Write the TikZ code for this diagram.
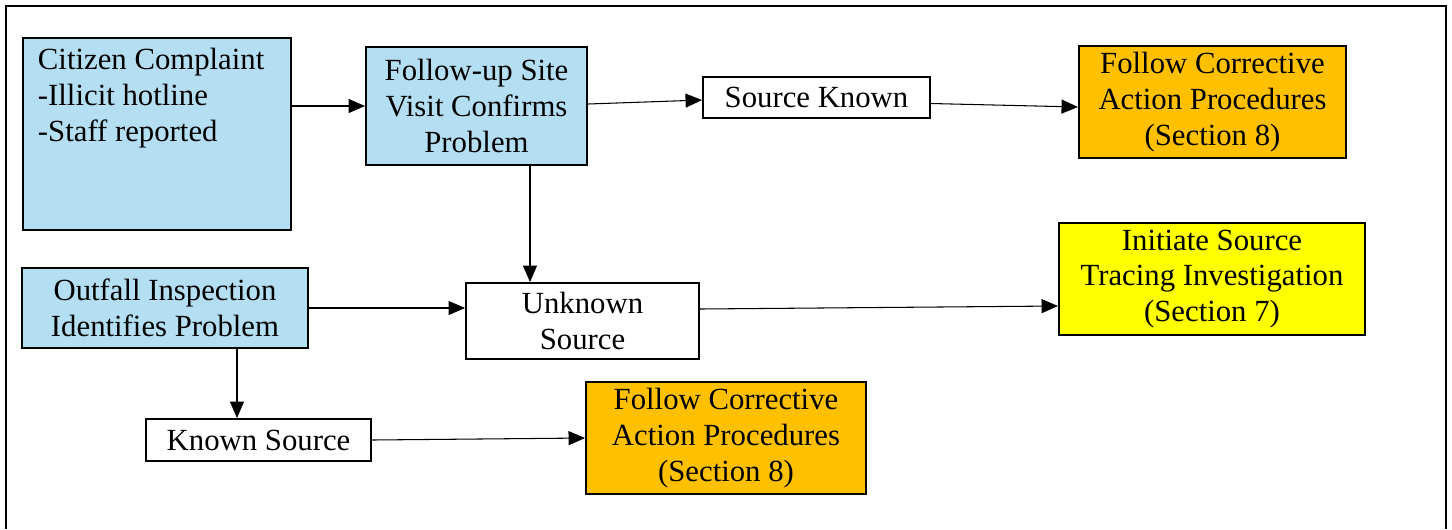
\documentclass[tikz,border=0pt]{standalone}
\usepackage{fontspec}
\setmainfont{Liberation Serif}
\usetikzlibrary{arrows.meta,positioning}
\definecolor{SkyB}{RGB}{180,222,242}
\definecolor{CorrOr}{RGB}{255,192,0}
\definecolor{TraceY}{RGB}{255,255,0}
\newcommand{\boxfont}{\fontsize{17.5}{20.4}\selectfont}
\tikzset{
  blk/.style={draw=black,line width=1.1pt,font=\boxfont,align=center,inner sep=2pt},
  bluebox/.style={blk,fill=SkyB},
  whitebox/.style={blk,fill=white},
  orangebox/.style={blk,fill=CorrOr},
  yellowbox/.style={blk,fill=TraceY},
  flow/.style={-{Triangle[length=3.3mm,width=2.8mm]},line width=0.6pt},
}
\begin{document}
\begin{tikzpicture}
  \useasboundingbox (0,0) rectangle (29.04,-10.58);
  \draw[line width=1.1pt] (0.12,-10.58) -- (0.12,-0.12) -- (28.92,-0.12) -- (28.92,-10.58);
  % sources of a report
  \node[bluebox,anchor=north west,inner xsep=0.3cm,inner ysep=0.2cm,align=left] (citizen) at (0.44,-0.74)
    {\parbox[t][3.44cm][t]{4.76cm}{Citizen Complaint\\-Illicit hotline\\-Staff reported}};
  \node[bluebox,minimum width=4.42cm,minimum height=2.36cm] (followup) at (9.53,-2.12)
    {Follow-up Site\\Visit Confirms\\Problem};
  \node[bluebox,minimum width=5.72cm,minimum height=1.6cm] (outfall) at (3.30,-6.16)
    {Outfall Inspection\\Identifies Problem};
  % source found or not
  \node[whitebox,minimum width=4.54cm,minimum height=0.82cm] (sknown) at (16.33,-1.95) {Source Known};
  \node[whitebox,minimum width=4.66cm,minimum height=1.52cm] (unknown) at (11.65,-6.42) {Unknown\\Source};
  \node[whitebox,minimum width=4.5cm,minimum height=0.84cm] (ksource) at (5.17,-8.80) {Known Source};
  % follow-up actions
  \node[orangebox,minimum width=5.34cm,minimum height=2.24cm] (corrA) at (24.25,-2.04)
    {Follow Corrective\\Action Procedures\\(Section 8)};
  \node[yellowbox,minimum width=6.12cm,minimum height=2.24cm] (trace) at (24.24,-5.58)
    {Initiate Source\\Tracing Investigation\\(Section 7)};
  \node[orangebox,minimum width=5.6cm,minimum height=2.24cm] (corrB) at (14.52,-8.76)
    {Follow Corrective\\Action Procedures\\(Section 8)};
  % connectors
  \draw[flow] (citizen.east |- followup.west) -- (followup.west);
  \draw[flow] ([yshift=0.04cm]followup.east) -- ([yshift=-0.05cm]sknown.west);
  \draw[flow] ([yshift=-0.12cm]sknown.east) -- ([yshift=-0.1cm]corrA.west);
  \draw[flow] ([xshift=1.07cm]followup.south) -- ([xshift=1.07cm]followup.south |- unknown.north);
  \draw[flow] (outfall.east) -- (outfall.east -| unknown.west);
  \draw[flow] ([yshift=0.24cm]unknown.east) -- ([yshift=-0.54cm]trace.west);
  \draw[flow] ([xshift=1.44cm]outfall.south) -- ([xshift=1.44cm]outfall.south |- ksource.north);
  \draw[flow] (ksource.east) -- (corrB.west);
\end{tikzpicture}
\end{document}
